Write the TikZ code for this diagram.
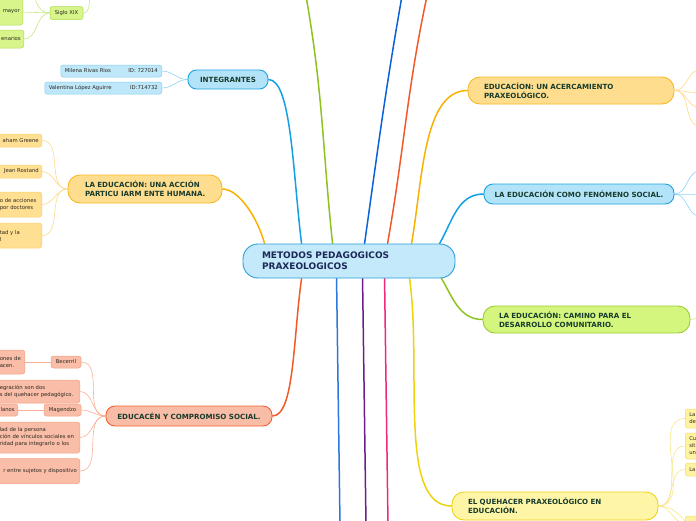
\documentclass[tikz,border=0pt]{standalone}
\usepackage{fontspec}
\setmainfont{DejaVu Sans}
\pgfdeclarelayer{bg}
\pgfsetlayers{bg,main}
\definecolor{cfill}{HTML}{C4E9FB}
\definecolor{cdraw}{HTML}{2A9FD8}
\definecolor{ctext}{HTML}{1C2957}
\definecolor{htext}{HTML}{173B2C}
\definecolor{chtext}{HTML}{2B271E}
\definecolor{ofill}{HTML}{FFDD8E}
\definecolor{odraw}{HTML}{F7B928}
\definecolor{oline}{HTML}{F8B100}
\definecolor{ocfill}{HTML}{FFDF92}
\definecolor{ocdraw}{HTML}{F9CF72}
\definecolor{ocline}{HTML}{FDD98C}
\definecolor{bfill}{HTML}{B3E3F9}
\definecolor{bdraw}{HTML}{1FA2E1}
\definecolor{bline}{HTML}{14A0E3}
\definecolor{bcfill}{HTML}{BEE7FA}
\definecolor{bcdraw}{HTML}{82CEF1}
\definecolor{bcline}{HTML}{8DD3F4}
\definecolor{sfill}{HTML}{F9BCA6}
\definecolor{sdraw}{HTML}{F2622F}
\definecolor{sline}{HTML}{F15A24}
\definecolor{scfill}{HTML}{F9BDA8}
\definecolor{scdraw}{HTML}{F5A081}
\definecolor{scline}{HTML}{F9B096}
\definecolor{gfill}{HTML}{D5F67E}
\definecolor{gdraw}{HTML}{9ACB36}
\definecolor{gline}{HTML}{8DC21F}
\definecolor{gcfill}{HTML}{D8F58C}
\definecolor{gcdraw}{HTML}{AEDA50}
\definecolor{gcline}{HTML}{C6E880}
\definecolor{yfill}{HTML}{FFF5A6}
\definecolor{ydraw}{HTML}{EFD21A}
\definecolor{yline}{HTML}{F0D20C}
\definecolor{ycfill}{HTML}{FFF3A2}
\definecolor{ycdraw}{HTML}{F1DD62}
\definecolor{ycline}{HTML}{F6E68A}
\definecolor{tblue}{HTML}{0B62D6}
\definecolor{torange}{HTML}{F2582A}
\definecolor{bblue}{HTML}{2A78D8}
\definecolor{bpurple}{HTML}{6C1D8C}
\definecolor{bpink}{HTML}{F0287C}
\newcommand\cenfont{\fontsize{9}{11}\selectfont\bfseries}
\newcommand\hdfont{\fontsize{7.1}{9}\selectfont\bfseries}
\newcommand\chfont{\fontsize{5.3}{7}\selectfont}
\tikzset{
  hd/.style={draw, line width=0.9pt, font=\hdfont, text=htext, inner ysep=2pt},
  chbox/.style={draw, line width=0.5pt, rounded corners=2.5pt, font=\chfont, text=chtext, inner xsep=3pt, inner ysep=1pt},
  och/.style={fill=ocfill, draw=ocdraw},
  bch/.style={fill=bcfill, draw=bcdraw},
  sch/.style={fill=scfill, draw=scdraw},
  gch/.style={fill=gcfill, draw=gcdraw},
  ych/.style={fill=ycfill, draw=ycdraw},
  br/.style={line width=1.5pt, line cap=round},
  sub/.style={line width=0.6pt},
}
\begin{document}
\begin{tikzpicture}[x=1pt,y=-1pt]
\useasboundingbox (0,0) rectangle (696,520);
% central
\node[hd, fill=cfill, draw=cdraw, text=ctext, font=\cenfont, rounded corners=15pt, minimum height=34pt, text width=174pt, inner xsep=19pt, align=left] (c) at (349,261) {\mbox{METODOS PEDAGOGICOS}\\\mbox{PRAXEOLOGICOS}};
% main headings
\node[hd, fill=ofill, draw=odraw, rounded corners=12pt, minimum height=28pt, text width=120pt, inner xsep=17pt, align=left] (edu1) at (145,189) {\mbox{LA EDUCACIÓN: UNA ACCIÓN}\\\mbox{PARTICU IARM ENTE HUMANA.}};
\node[hd, fill=bfill, draw=bdraw, rounded corners=8.5pt, minimum height=19pt, minimum width=80pt, align=center] (integ) at (228,79.5) {INTEGRANTES};
\node[hd, fill=sfill, draw=sdraw, rounded corners=9pt, minimum height=20pt, minimum width=166pt, align=center] (comp) at (189,416) {EDUCACÉN Y COMPROMISO SOCIAL.};
\node[hd, fill=ofill, draw=odraw, rounded corners=12pt, minimum height=27pt, text width=174pt, inner xsep=16pt, align=left] (acerc) at (571,90.5) {\mbox{EDUCACÍON: UN ACERCAMIENTO}\\\mbox{PRAXEOLÓGICO.}};
\node[hd, fill=bfill, draw=bdraw, rounded corners=9pt, minimum height=20pt, minimum width=190pt, align=center] (fen) at (579,194) {LA EDUCACIÓN COMO FENÓMENO SOCIAL.};
\node[hd, fill=gfill, draw=gdraw, rounded corners=12pt, minimum height=27pt, text width=175pt, inner xsep=16pt, align=left] (cam) at (586.5,319.5) {\mbox{LA EDUCACIÓN: CAMINO PARA EL}\\\mbox{DESARROLLO COMUNITARIO.}};
\node[hd, fill=yfill, draw=ydraw, rounded corners=12pt, minimum height=28pt, text width=174pt, inner xsep=16pt, align=left] (queh) at (555,506) {\mbox{EL QUEHACER PRAXEOLÓGICO EN}\\\mbox{EDUCACIÓN.}};
% top-left green children
\node[chbox, gch, minimum width=33pt, minimum height=13pt] (siglo) at (66.5,13) {Siglo XIX};
\node[chbox, gch, anchor=east, minimum height=26pt] (mayor) at (23,12) {\makebox[20pt][r]{mayor}};
\node[chbox, gch, anchor=east, minimum height=18pt] (enar) at (24,39) {\makebox[21pt][r]{enarios}};
\coordinate (sigup) at (90,-3);
\coordinate (sigtop) at (35,-3);
% integrantes children
\node[chbox, bch, inner xsep=4pt, minimum height=12pt, anchor=east] (mil) at (162,71) {\makebox[93pt]{Milena Rivas Rios\hfill ID: 727014}};
\node[chbox, bch, inner xsep=4pt, minimum height=12pt, anchor=east] (val) at (162,88) {\makebox[109pt]{Valentina López Aguirre\hfill ID:714732}};
% la educacion children
\node[chbox, och, anchor=east, minimum height=13pt] (gre) at (42,140.5) {\makebox[39pt][r]{aham Greene}};
\node[chbox, och, anchor=east, minimum height=13pt] (ros) at (42,171.5) {\makebox[39pt][r]{Jean Rostand}};
\node[chbox, och, anchor=east, minimum height=25pt, align=left, text width=39pt] (acc) at (42,204.5) {\mbox{o de acciones}\\\mbox{por doctores}};
\node[chbox, och, anchor=east, minimum height=25pt, align=left, text width=39pt] (tad) at (42,235.5) {\mbox{tad y la}\\l};
% compromiso children
\node[chbox, sch, minimum width=30pt, minimum height=12pt] (bec) at (66,362) {Becerril};
\node[chbox, sch, anchor=east, minimum height=24pt, align=left, text width=22pt] (onesde) at (25,362) {\mbox{ones de}\\\mbox{acen.}};
\node[chbox, sch, anchor=east, minimum height=23pt, align=left, text width=77pt] (integr) at (80,391.5) {\mbox{egración son dos}\\\mbox{s del quehacer pedagógico.}};
\node[chbox, sch, minimum width=37pt, minimum height=12pt] (mag) at (62.5,410) {Magendzo};
\node[chbox, sch, anchor=east, minimum height=12pt] (lanos) at (18,410) {\makebox[15pt][r]{lanos}};
\node[chbox, sch, anchor=east, minimum height=31pt, align=left, text width=77pt] (pers) at (80,437.5) {\mbox{lad de la persona}\\\mbox{ción de vínculos sociales en}\\\mbox{ridad para integrarlo o los}};
\node[chbox, sch, anchor=east, minimum height=25pt] (suj) at (80,471) {\makebox[77pt][r]{r entre sujetos y dispositivo}};
% quehacer children
\node[chbox, ych, anchor=west, minimum height=19pt, align=left, text width=40pt, inner xsep=4pt] (q1) at (685,418.5) {La\\de};
\node[chbox, ych, anchor=west, minimum height=26pt, align=left, text width=40pt, inner xsep=4pt] (q2) at (685,446) {Cu\\sit\\un};
\node[chbox, ych, anchor=west, minimum height=13pt, align=left, text width=40pt, inner xsep=4pt] (q3) at (685,469.5) {La};
\node[chbox, ych, anchor=west, minimum height=14pt, text width=40pt, inner xsep=4pt] (q4) at (685,523) {};
% off-page ends
\coordinate (a1) at (700,70);
\coordinate (a2) at (700,93);
\coordinate (a3) at (700,108);
\coordinate (a4) at (700,126);
\coordinate (f1) at (700,171);
\coordinate (f2) at (700,194);
\coordinate (f3) at (700,216);
\coordinate (m1) at (700,318);
\coordinate (qx) at (694,536);
\coordinate (tg) at (306,-4);
\coordinate (tb) at (402,-4);
\coordinate (to) at (427,-4);
\coordinate (bb) at (340,524);
\coordinate (bp) at (366,524);
\coordinate (bk) at (388,524);
\begin{pgfonlayer}{bg}
% main branches
\draw[br, oline] ([xshift=22pt]c.north west) to[out=105,in=0,out looseness=1,in looseness=0.6] (edu1.east);
\draw[br, bline] ([xshift=59pt]c.north west) to[out=97,in=0,out looseness=1.1,in looseness=0.35] (integ.east);
\draw[br, gline] ([xshift=90pt]c.north west) to[out=96,in=-80] (tg);
\draw[br, tblue] ([xshift=122pt]c.north west) to[out=82,in=-100] (tb);
\draw[br, torange] ([xshift=145pt]c.north west) to[out=80,in=-102] (to);
\draw[br, oline] ([xshift=169pt]c.north west) to[out=80,in=180,in looseness=0.7] (acerc.west);
\draw[br, bline] ([xshift=197pt]c.north west) to[out=60,in=180] (fen.west);
\draw[br, sline] ([xshift=59pt]c.south west) to[out=-98,in=0,out looseness=1.1,in looseness=0.4] (comp.east);
\draw[br, bblue] ([xshift=94pt]c.south west) -- (bb);
\draw[br, bpurple] ([xshift=120pt]c.south west) -- (bp);
\draw[br, bpink] ([xshift=142pt]c.south west) -- (bk);
\draw[br, yline] ([xshift=167pt]c.south west) to[out=-82,in=180,in looseness=0.6] (queh.west);
\draw[br, gline] ([xshift=199pt]c.south west) to[out=-60,in=180] (cam.west);
% sub connectors
\draw[sub, gcline] (siglo.west) -- (mayor.east);
\draw[sub, gcline] (siglo.west) to[out=180,in=0] (enar.east);
\draw[sub, gcline] (siglo.west) to[out=180,in=-80] (sigtop);
\draw[sub, gcline] (siglo.east) to[out=0,in=-100] (sigup);
\draw[sub, bcline] (integ.west) to[out=180,in=0] (mil.east);
\draw[sub, bcline] (integ.west) to[out=180,in=0] (val.east);
\draw[sub, ocline] (edu1.west) to[out=180,in=0] (gre.east);
\draw[sub, ocline] (edu1.west) to[out=180,in=0] (ros.east);
\draw[sub, ocline] (edu1.west) to[out=180,in=0] (acc.east);
\draw[sub, ocline] (edu1.west) to[out=180,in=0] (tad.east);
\draw[sub, scline] (comp.west) to[out=180,in=0] (bec.east);
\draw[sub, scline] (comp.west) to[out=180,in=0] (integr.east);
\draw[sub, scline] (comp.west) to[out=180,in=0] (mag.east);
\draw[sub, scline] (comp.west) to[out=180,in=0] (pers.east);
\draw[sub, scline] (comp.west) to[out=180,in=0] (suj.east);
\draw[sub, scline] (bec.west) -- (onesde.east);
\draw[sub, scline] (mag.west) -- (lanos.east);
\draw[sub, ocline] (acerc.east) to[out=0,in=180] (a1);
\draw[sub, ocline] (acerc.east) to[out=0,in=180] (a2);
\draw[sub, ocline] (acerc.east) to[out=0,in=180] (a3);
\draw[sub, ocline] (acerc.east) to[out=0,in=180] (a4);
\draw[sub, bcline] (fen.east) to[out=0,in=180] (f1);
\draw[sub, bcline] (fen.east) to[out=0,in=180] (f2);
\draw[sub, bcline] (fen.east) to[out=0,in=180] (f3);
\draw[sub, gcline] (cam.east) -- (m1);
\draw[sub, ycline] (queh.east) to[out=0,in=180] (q1.west);
\draw[sub, ycline] (queh.east) to[out=0,in=180] (q2.west);
\draw[sub, ycline] (queh.east) to[out=0,in=180] (q3.west);
\draw[sub, ycline] (queh.east) to[out=0,in=180] (q4.west);
\draw[sub, ycline] (queh.east) to[out=0,in=120] (qx);
\end{pgfonlayer}
\end{tikzpicture}
\end{document}
